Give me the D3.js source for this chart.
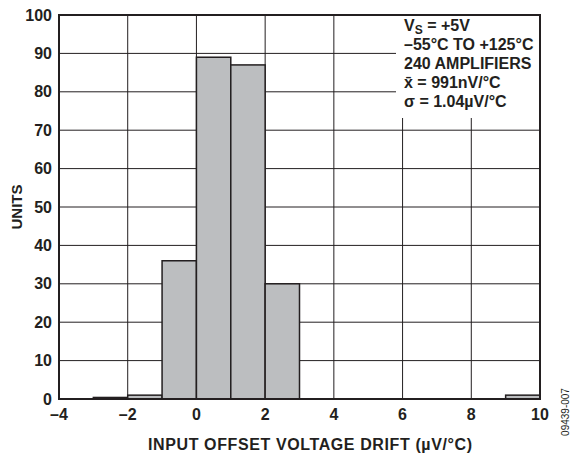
<!DOCTYPE html>
<html>
<head>
<meta charset="utf-8">
<script src="https://cdn.jsdelivr.net/npm/d3@7"></script>
<style>
  body { margin: 0; background: #fff; }
  text { font-family: "Liberation Sans", Arial, sans-serif; font-weight: bold; fill: #231f20; }
</style>
</head>
<body>
<svg width="573" height="456"></svg>
<script>
// histogram bins (lower edge, upper edge) and counts
const binStart = [-3, -2, -1, 0, 1, 2, 9];
const binEnd   = [-2, -1, 0, 1, 2, 3, 10];
const counts   = [0.4, 1, 36, 89, 87, 30, 1];
const xTicks = [-4, -2, 0, 2, 4, 6, 8, 10];
const yTicks = [0, 10, 20, 30, 40, 50, 60, 70, 80, 90, 100];
const noteLines = ["V_S = +5V", "–55°C TO +125°C", "240 AMPLIFIERS", "x̄ = 991nV/°C", "σ = 1.04µV/°C"];

const svg = d3.select("svg");
const pL = 59, pR = 540, pT = 15, pB = 399;
const x = d3.scaleLinear().domain([-4, 10]).range([pL, pR]);
const y = d3.scaleLinear().domain([0, 100]).range([pB, pT]);
const ink = "#231f20";

// grid
svg.selectAll(".vg").data(xTicks).enter().append("line")
    .attr("x1", d => x(d)).attr("x2", d => x(d))
    .attr("y1", pT).attr("y2", pB)
    .attr("stroke", ink).attr("stroke-width", 1);
svg.selectAll(".hg").data(yTicks).enter().append("line")
    .attr("x1", pL).attr("x2", pR)
    .attr("y1", d => y(d)).attr("y2", d => y(d))
    .attr("stroke", ink).attr("stroke-width", 1);

// note box covers the grid
svg.append("rect").attr("x", 396).attr("y", pT).attr("width", pR - 396).attr("height", 103).attr("fill", "#fff");

// bars
const bins = binStart.map((s, i) => ({ s, e: binEnd[i], v: counts[i] }));
svg.selectAll(".bar").data(bins).enter().append("rect")
    .attr("x", d => x(d.s))
    .attr("y", d => y(d.v))
    .attr("width", d => x(d.e) - x(d.s))
    .attr("height", d => y(0) - y(d.v))
    .attr("fill", "#bcbec0")
    .attr("stroke", ink).attr("stroke-width", 1.5);

// frame
svg.append("rect").attr("x", pL).attr("y", pT).attr("width", pR - pL).attr("height", pB - pT)
    .attr("fill", "none").attr("stroke", ink).attr("stroke-width", 2);

// tick labels
svg.selectAll(".yl").data(yTicks).enter().append("text")
    .attr("x", pL - 7).attr("y", d => y(d) + 5.5)
    .attr("text-anchor", "end").attr("font-size", 16)
    .text(d => d);
svg.selectAll(".xl").data(xTicks).enter().append("text")
    .attr("x", d => x(d)).attr("y", pB + 21)
    .attr("text-anchor", "middle").attr("font-size", 16)
    .text(d => d < 0 ? "–" + Math.abs(d) : d);

// axis titles
svg.append("text").attr("transform", "translate(22,207) rotate(-90)")
    .attr("text-anchor", "middle").attr("font-size", 15).text("UNITS");
svg.append("text").attr("x", 148).attr("y", 450)
    .attr("font-size", 16).attr("textLength", 324).attr("lengthAdjust", "spacing")
    .text("INPUT OFFSET VOLTAGE DRIFT (µV/°C)");
svg.append("text").attr("transform", "translate(569,412) rotate(-90)")
    .attr("text-anchor", "middle").attr("font-size", 10).style("font-weight", "normal").text("09439-007");

// note text
noteLines.forEach((t, i) => {
  const tx = svg.append("text").attr("x", 404).attr("y", 31 + i * 19).attr("font-size", 16);
  if (t.startsWith("V_S")) {
    tx.append("tspan").text("V");
    tx.append("tspan").attr("font-size", 12).attr("dy", 3).text("S");
    tx.append("tspan").attr("dy", -3).text(" = +5V");
  } else {
    tx.text(t);
  }
});
</script>
</body>
</html>
